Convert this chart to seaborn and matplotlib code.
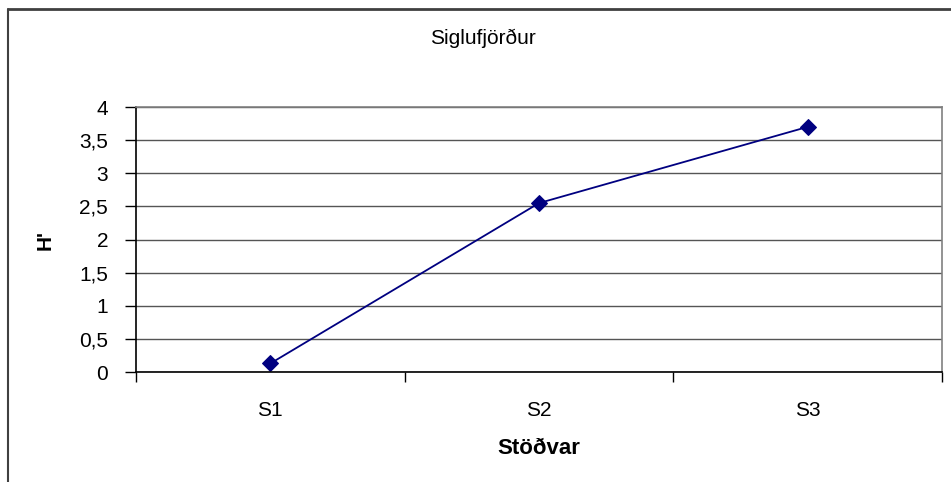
import numpy as np
import pandas as pd
import matplotlib
matplotlib.use("Agg")
import matplotlib.pyplot as plt
import seaborn as sns
from matplotlib.lines import Line2D
from matplotlib.ticker import FuncFormatter

# values
stations = ["S1", "S2", "S3"]
h_values = [0.13, 2.55, 3.70]
y_ticks = [0, 0.5, 1, 1.5, 2, 2.5, 3, 3.5, 4]

df = pd.DataFrame({"Stöðvar": stations, "H'": h_values})

sns.set_theme(style="white")
plt.rcParams["font.family"] = ["Liberation Sans", "DejaVu Sans"]
plt.rcParams["text.color"] = "black"
plt.rcParams["axes.labelcolor"] = "black"
plt.rcParams["xtick.color"] = "black"
plt.rcParams["ytick.color"] = "black"

fig = plt.figure(figsize=(9.51, 4.82), dpi=100)
ax = fig.add_axes([0.143, 0.228, 0.8475, 0.55])

sns.lineplot(data=df, x="Stöðvar", y="H'", sort=False, color="#000080",
             marker="D", markersize=8, markeredgecolor="#000080",
             linewidth=1.3, ax=ax)

ax.set_xlim(-0.5, 2.5)
ax.set_ylim(0, 4)
ax.set_yticks(y_ticks)
ax.yaxis.set_major_formatter(FuncFormatter(lambda v, p: f"{v:g}".replace(".", ",")))
ax.yaxis.grid(True, color="#555555", linewidth=1)
ax.set_axisbelow(True)

# category boundaries get the tick marks, labels sit in the middle
ax.set_xticks([-0.5, 0.5, 1.5, 2.5])
ax.set_xticklabels([])
ax.set_xticks([0, 1, 2], minor=True)
ax.set_xticklabels(stations, minor=True)
ax.tick_params(axis="x", which="major", direction="out", length=7, width=1, color="black", bottom=True)
ax.tick_params(axis="x", which="minor", length=0, pad=21, labelsize=15)
ax.tick_params(axis="y", direction="out", length=8, width=1, color="black", left=True, labelsize=15, pad=12)

for side in ["left", "bottom"]:
    ax.spines[side].set_color("black")
    ax.spines[side].set_linewidth(1.2)
for side in ["top", "right"]:
    ax.spines[side].set_color("#808080")
    ax.spines[side].set_linewidth(1.2)

ax.set_xlabel("Stöðvar", fontsize=16, fontweight="bold", labelpad=13)
ax.set_ylabel("H'", fontsize=15, fontweight="bold", labelpad=18)

fig.text(0.508, 0.921, "Siglufjörður", ha="center", va="center", fontsize=15)

# outer chart border (only top and left are visible in the crop)
fig.add_artist(Line2D([0.0085, 1.0], [0.981, 0.981], transform=fig.transFigure, color="#404040", linewidth=2))
fig.add_artist(Line2D([0.0085, 0.0085], [0.0, 0.981], transform=fig.transFigure, color="#404040", linewidth=1.5))

fig.savefig("out.png", dpi=100, facecolor="white")
